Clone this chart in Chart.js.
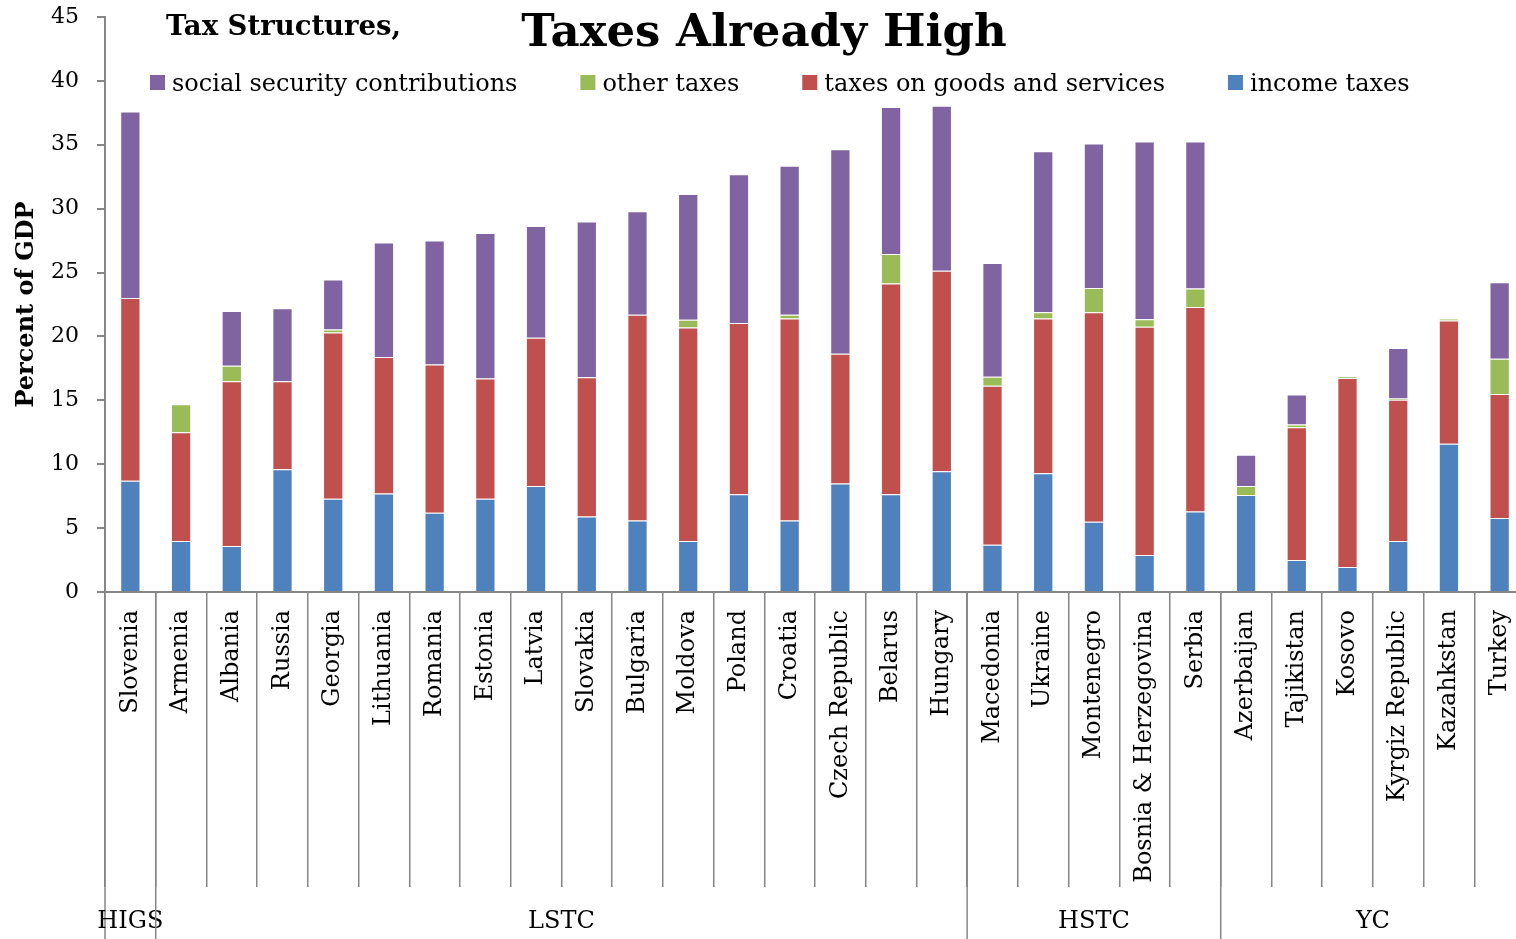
<!DOCTYPE html>
<html>
<head>
<meta charset="utf-8">
<title>Tax Structures, Taxes Already High</title>
<script src="https://cdn.jsdelivr.net/npm/chart.js@4.4.1/dist/chart.umd.min.js"></script>
<style>
  html, body { margin: 0; padding: 0; background: #fff; overflow: hidden; }
  #tax-structures-chart { display: block; }
</style>
</head>
<body>
<canvas id="tax-structures-chart" width="1526" height="939"></canvas>
<script>
var countries = [
  'Slovenia', 'Armenia', 'Albania', 'Russia', 'Georgia', 'Lithuania', 'Romania',
  'Estonia', 'Latvia', 'Slovakia', 'Bulgaria', 'Moldova', 'Poland', 'Croatia',
  'Czech Republic', 'Belarus', 'Hungary', 'Macedonia', 'Ukraine', 'Montenegro',
  'Bosnia & Herzegovina', 'Serbia', 'Azerbaijan', 'Tajikistan', 'Kosovo',
  'Kyrgiz Republic', 'Kazahkstan', 'Turkey'
];

// country groups, in the same order as the countries above
var groupNames = ['HIGS', 'LSTC', 'HSTC', 'YC'];
var groupSizes = [1, 16, 5, 6];

// percent of GDP
var incomeTaxes = [8.7, 4.0, 3.6, 9.6, 7.3, 7.7, 6.2, 7.3, 8.3, 5.9, 5.6, 4.0, 7.65, 5.6,
  8.5, 7.65, 9.45, 3.7, 9.3, 5.5, 2.9, 6.3, 7.6, 2.5, 1.95, 4.0, 11.6, 5.8];
var goodsAndServices = [14.3, 8.5, 12.9, 6.9, 13.0, 10.7, 11.6, 9.4, 11.6, 10.9, 16.1, 16.7, 13.4, 15.8,
  10.15, 16.5, 15.7, 12.45, 12.1, 16.4, 17.85, 16.0, 0, 10.4, 14.8, 11.05, 9.65, 9.7];
var otherTaxes = [0, 2.2, 1.2, 0, 0.25, 0, 0, 0, 0, 0, 0, 0.6, 0, 0.3,
  0, 2.3, 0, 0.7, 0.5, 1.9, 0.6, 1.45, 0.7, 0.2, 0.1, 0.1, 0.15, 2.75];
var socialSecurity = [14.6, 0, 4.3, 5.7, 3.9, 8.95, 9.7, 11.4, 8.75, 12.2, 8.1, 9.85, 11.65, 11.65,
  16.0, 11.5, 12.9, 8.9, 12.6, 11.3, 13.9, 11.5, 2.45, 2.35, 0, 3.95, 0, 6.0];

var serif = '"DejaVu Serif", "Liberation Serif", serif';
var axisGray = '#868686';

// title, legend and the group row under the country names
var headerAndGroups = {
  id: 'headerAndGroups',
  afterDraw: function(chart) {
    var c = chart.ctx;
    var area = chart.chartArea;
    var xScale = chart.scales.x;
    c.save();
    c.fillStyle = '#000';
    c.textBaseline = 'alphabetic';

    c.textAlign = 'left';
    c.font = 'bold 27.5px ' + serif;
    c.fillText('Tax Structures,', 166, 35);
    c.textAlign = 'center';
    c.font = 'bold 45px ' + serif;
    c.fillText('Taxes Already High', 764, 46);

    // legend lists the top of the stack first
    c.textAlign = 'left';
    c.font = '24px ' + serif;
    var x = 150;
    chart.data.datasets.slice().reverse().forEach(function(ds) {
      c.fillStyle = ds.backgroundColor;
      c.fillRect(x, 75, 15, 15);
      c.fillStyle = '#000';
      c.fillText(ds.label, x + 22, 91);
      x += 22 + c.measureText(ds.label).width + 63;
    });

    var half = (xScale.getPixelForValue(1) - xScale.getPixelForValue(0)) / 2;
    var start = 0;
    c.strokeStyle = axisGray;
    c.lineWidth = 1.5;
    c.textAlign = 'center';
    c.textBaseline = 'middle';
    c.font = '24px ' + serif;
    groupNames.forEach(function(name, i) {
      var end = start + groupSizes[i];
      var left = xScale.getPixelForValue(start) - half;
      var right = xScale.getPixelForValue(end - 1) + half;
      c.beginPath();
      c.moveTo(left, area.bottom);
      c.lineTo(left, chart.height);
      c.stroke();
      c.fillText(name, (left + right) / 2, 922);
      start = end;
    });
    c.restore();
  }
};

var ctx = document.getElementById('tax-structures-chart');
var taxChart = new Chart(ctx, {
  type: 'bar',
  data: {
    labels: countries,
    datasets: [
      { label: 'income taxes', data: incomeTaxes, backgroundColor: '#4F81BD' },
      { label: 'taxes on goods and services', data: goodsAndServices, backgroundColor: '#C0504D' },
      { label: 'other taxes', data: otherTaxes, backgroundColor: '#9BBB59' },
      { label: 'social security contributions', data: socialSecurity, backgroundColor: '#8064A2' }
    ]
  },
  options: {
    responsive: false,
    animation: false,
    devicePixelRatio: 1,
    layout: { padding: { top: 17, left: 0, right: 1, bottom: 0 } },
    datasets: {
      bar: {
        categoryPercentage: 1,
        barPercentage: 0.4,
        borderWidth: 1,
        borderColor: 'rgba(255, 255, 255, 0.45)'
      }
    },
    plugins: {
      legend: { display: false },
      tooltip: { enabled: false }
    },
    scales: {
      x: {
        stacked: true,
        border: { display: true, color: axisGray, width: 2 },
        grid: {
          drawOnChartArea: false,
          drawTicks: true,
          tickLength: 295,
          color: axisGray,
          lineWidth: 1.5
        },
        ticks: {
          color: '#000',
          font: { family: serif, size: 24 },
          minRotation: 90,
          maxRotation: 90,
          autoSkip: false,
          padding: -277
        },
        afterFit: function(scale) { scale.height = 347; }
      },
      y: {
        stacked: true,
        min: 0,
        max: 45,
        border: { display: true, color: axisGray, width: 2 },
        grid: {
          drawOnChartArea: false,
          drawTicks: true,
          tickLength: 8,
          color: axisGray,
          lineWidth: 2
        },
        ticks: {
          stepSize: 5,
          color: '#000',
          font: { family: serif, size: 22 },
          padding: 18
        },
        title: {
          display: true,
          text: 'Percent of GDP',
          color: '#000',
          font: { family: serif, size: 24, weight: 'bold' },
          padding: { top: 12, bottom: 0 }
        },
        afterFit: function(scale) {
          scale.width = 105;
          // the 45 label may sit in the top margin
          scale.paddingTop = 0;
          scale.paddingBottom = 0;
        }
      }
    }
  },
  plugins: [headerAndGroups]
});
</script>
</body>
</html>
